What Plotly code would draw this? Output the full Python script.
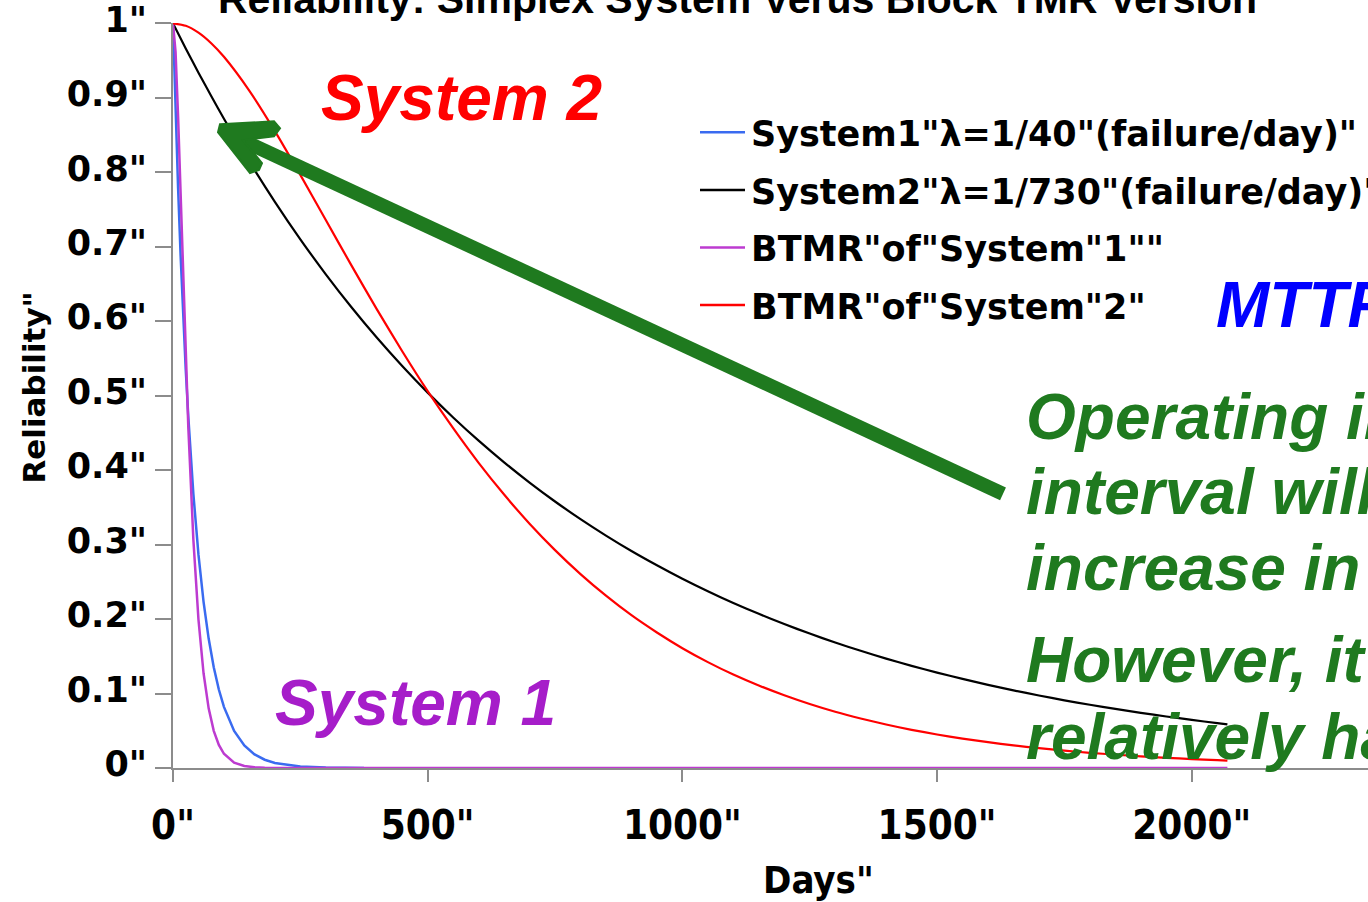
import plotly.graph_objects as go

# ---- Series data (reliability vs. operating days) ----
series_names = [
    'System1"λ=1/40"(failure/day)"',
    'System2"λ=1/730"(failure/day)"',
    'BTMR"of"System"1""',
    'BTMR"of"System"2"',
]
series_colors = ["#3A6BF0", "#000000", "#BD3BD0", "#FF0000"]
series_widths = [2.5, 2.2, 2.5, 2.2]

# System 1 (simplex) and its block-TMR version
days_s1 = [0, 5, 10, 15, 20, 25, 30, 40, 50, 60, 70, 80, 90, 100, 120, 140,
           160, 180, 200, 250, 300, 375]
rel_s1 = [1.0, 0.8825, 0.7788, 0.6873, 0.6065, 0.5353, 0.4724, 0.3679, 0.2865,
          0.2231, 0.1738, 0.1353, 0.1054, 0.0821, 0.0498, 0.0302, 0.0183,
          0.0111, 0.0067, 0.0019, 0.0006, 0.0001]

days_btmr1 = [0, 5, 10, 15, 20, 25, 30, 40, 50, 60, 70, 80, 90, 100, 120, 140,
              160, 180, 200, 250, 300, 375, 500, 1000, 1500, 2070]
rel_btmr1 = [1.0, 0.9618, 0.8748, 0.7677, 0.6573, 0.5529, 0.4586, 0.3064,
             0.1993, 0.1272, 0.0801, 0.0499, 0.0310, 0.0191, 0.0072, 0.0027,
             0.0010, 0.0004, 0.0001, 0.0, 0.0, 0.0, 0.0, 0.0, 0.0, 0.0]

# System 2 (simplex) and its block-TMR version
days_s2 = [0, 25, 50, 75, 100, 150, 200, 250, 300, 350, 400, 450, 500, 550,
           600, 650, 700, 750, 800, 850, 900, 950, 1000, 1050, 1100, 1150,
           1200, 1250, 1300, 1350, 1400, 1450, 1500, 1550, 1600, 1650, 1700,
           1750, 1800, 1850, 1900, 1950, 2000, 2050, 2070]
rel_s2 = [1.0, 0.9663, 0.9338, 0.9024, 0.8720, 0.8142, 0.7604, 0.7100, 0.6630,
          0.6191, 0.5781, 0.5399, 0.5041, 0.4708, 0.4396, 0.4105, 0.3833,
          0.3579, 0.3342, 0.3121, 0.2914, 0.2722, 0.2541, 0.2373, 0.2216,
          0.2070, 0.1933, 0.1805, 0.1685, 0.1574, 0.1469, 0.1372, 0.1281,
          0.1196, 0.1117, 0.1043, 0.0974, 0.0909, 0.0849, 0.0793, 0.0741,
          0.0692, 0.0646, 0.0603, 0.0587]
rel_btmr2 = [1.0, 0.9967, 0.9875, 0.9733, 0.9551, 0.9094, 0.8553, 0.7965,
             0.7359, 0.6753, 0.6162, 0.5597, 0.5061, 0.4563, 0.4098, 0.3672,
             0.3281, 0.2926, 0.2604, 0.2314, 0.2052, 0.1820, 0.1609, 0.1422,
             0.1255, 0.1108, 0.0977, 0.0860, 0.0756, 0.0665, 0.0584, 0.0513,
             0.0450, 0.0395, 0.0347, 0.0304, 0.0266, 0.0233, 0.0204, 0.0179,
             0.0157, 0.0137, 0.0120, 0.0105, 0.0099]

x_ticks = [0, 500, 1000, 1500, 2000]
x_ticktext = ['0"', '500"', '1000"', '1500"', '2000"']
y_ticks = [0, 0.1, 0.2, 0.3, 0.4, 0.5, 0.6, 0.7, 0.8, 0.9, 1.0]
y_ticktext = ['0"', '0.1"', '0.2"', '0.3"', '0.4"', '0.5"', '0.6"', '0.7"',
              '0.8"', '0.9"', '1"']

# ---- Figure geometry (pixels) ----
W, H = 1368, 902
ML, MT, MB = 173, 18, 134
PLOT_W = W - ML
PLOT_H = H - MT - MB


def px_x(p):
    """Horizontal pixel -> paper coordinate."""
    return (p - ML) / PLOT_W


def px_y(p):
    """Vertical pixel (from top) -> paper coordinate."""
    return (H - MB - p) / PLOT_H


fig = go.Figure()

traces = [
    (days_s1, rel_s1, "linear"),
    (days_s2, rel_s2, "spline"),
    (days_btmr1, rel_btmr1, "linear"),
    (days_s2, rel_btmr2, "spline"),
]
for (xs, ys, shape), name, color, width in zip(traces, series_names,
                                               series_colors, series_widths):
    fig.add_trace(go.Scatter(
        x=xs, y=ys, name=name, mode="lines",
        line=dict(color=color, width=width, shape=shape, smoothing=0.6),
        showlegend=False, hoverinfo="skip",
    ))

AXIS_GRAY = "#8C8C8C"
fig.update_layout(
    width=W, height=H,
    margin=dict(l=ML, r=0, t=MT, b=MB, pad=0),
    paper_bgcolor="white", plot_bgcolor="white",
    xaxis=dict(
        range=[0, 2346], tickmode="array", tickvals=x_ticks,
        ticktext=x_ticktext, showgrid=False, zeroline=False,
        showline=True, linecolor=AXIS_GRAY, linewidth=2,
        ticks="outside", ticklen=12, tickwidth=2, tickcolor=AXIS_GRAY,
        tickfont=dict(family="DejaVu Sans Condensed", size=40,
                      color="black", weight="bold"),
        ticklabelstandoff=9, ticklabeloverflow="allow",
    ),
    yaxis=dict(
        range=[0, 1.0005], tickmode="array", tickvals=y_ticks,
        ticktext=y_ticktext, showgrid=False, zeroline=False,
        showline=True, linecolor=AXIS_GRAY, linewidth=2,
        ticks="outside", ticklen=16, tickwidth=2, tickcolor=AXIS_GRAY,
        tickfont=dict(family="DejaVu Sans", size=35, color="black",
                      weight="bold"),
        ticklabelstandoff=1, ticklabelshift=-4, ticklabeloverflow="allow",
    ),
)

annotations = []
shapes = []

# Chart title (partly above the visible area)
annotations.append(dict(
    text="Reliability: Simplex System Verus Block TMR Version",
    xref="paper", yref="paper", x=px_x(737), y=px_y(-6),
    xanchor="center", yanchor="middle", showarrow=False,
    font=dict(family="Liberation Sans", size=41, color="black",
              weight="bold"),
))

# Axis titles
annotations.append(dict(
    text='Days"', xref="paper", yref="paper", x=px_x(818), y=px_y(881),
    xanchor="center", yanchor="middle", showarrow=False,
    font=dict(family="DejaVu Sans Condensed", size=38, color="black",
              weight="bold"),
))
annotations.append(dict(
    text='Reliability"', xref="paper", yref="paper", x=px_x(34),
    y=px_y(385), xanchor="center", yanchor="middle", showarrow=False,
    textangle=-90,
    font=dict(family="DejaVu Sans", size=31, color="black", weight="bold"),
))

# Legend rows: short line sample + series name
legend_rows_y = [130, 188, 246, 304]
for name, color, row_y in zip(series_names, series_colors, legend_rows_y):
    shapes.append(dict(
        type="line", xref="paper", yref="paper",
        x0=px_x(700), x1=px_x(745), y0=px_y(row_y - 2), y1=px_y(row_y - 2),
        line=dict(color=color, width=2.5),
    ))
    annotations.append(dict(
        text=name, xref="paper", yref="paper", x=px_x(749), y=px_y(row_y),
        xanchor="left", yanchor="middle", showarrow=False,
        font=dict(family="DejaVu Sans", size=35, color="black",
                  weight="bold"),
    ))

# Callout labels
BIG = dict(family="Liberation Sans", size=64, weight="bold", style="italic")
callouts = [
    ("System 2", "#FF0000", 319, 94),
    ("System 1", "#A61DC9", 273, 703),
    ("MTTF of BTMR", "#0000FF", 1214, 302),
]
GREEN = "#1F7A1F"
green_lines = [
    ("Operating in this", 415),
    ("interval will show an", 490),
    ("increase in reliability", 567),
    ("However, it is", 659),
    ("relatively hard", 737),
]
for text, y in green_lines:
    callouts.append((text, GREEN, 1024, y))

for text, color, x, y in callouts:
    annotations.append(dict(
        text=text, xref="paper", yref="paper", x=px_x(x), y=px_y(y),
        xanchor="left", yanchor="middle", showarrow=False,
        font=dict(color=color, **BIG),
    ))

# Green arrow pointing at the crossing region of the System 2 curves
shapes.append(dict(
    type="line", xref="paper", yref="paper",
    x0=px_x(1003), y0=px_y(492), x1=px_x(238), y1=px_y(134),
    line=dict(color=GREEN, width=14),
))
head_pts = [(220, 120), (274, 117), (280, 124), (274, 132), (243, 136),
            (262, 159), (259, 166), (250, 169), (218, 128)]
head_path = "M " + " L ".join(f"{px_x(a):.5f},{px_y(b):.5f}"
                              for a, b in head_pts) + " Z"
shapes.append(dict(
    type="path", xref="paper", yref="paper", path=head_path,
    fillcolor=GREEN, line=dict(color=GREEN, width=2),
))

fig.update_layout(annotations=annotations, shapes=shapes)

fig.write_html("out.html")
